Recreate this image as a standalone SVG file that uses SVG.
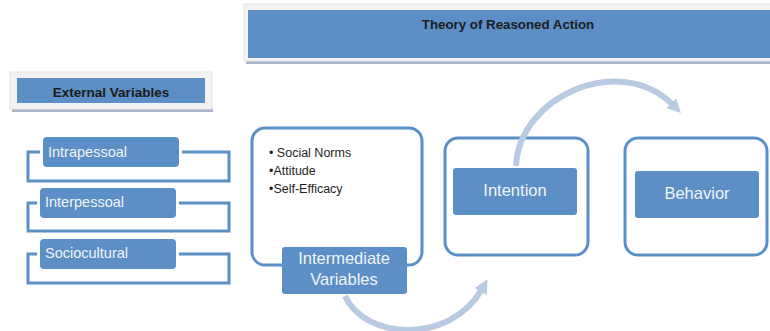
<svg xmlns="http://www.w3.org/2000/svg" width="770" height="331" viewBox="0 0 770 331">
  <defs>
    <style>
      .blue { fill: #5b8fc6; }
      .frame { fill: #ffffff; stroke: #5b8fc6; stroke-width: 3; }
      .bracket { fill: none; stroke: #5b8fc6; stroke-width: 3; }
      .panel { fill: #f3f3f3; stroke: #e4e4e4; stroke-width: 1; }
      .shadow { fill: #a9b6c8; }
      .head { font-family: "Liberation Sans", Arial, sans-serif; font-weight: bold; fill: #1c1c1c; }
      .label { font-family: "Liberation Sans", Arial, sans-serif; fill: #f2f4f8; }
      .bullet { font-family: "Liberation Sans", Arial, sans-serif; font-size: 12.5px; fill: #1e1e1e; }
      .flow { fill: none; stroke: #b9cbe3; stroke-width: 6; }
    </style>
    <marker id="arrow" viewBox="0 0 10 10" refX="2" refY="5" markerWidth="14" markerHeight="14" markerUnits="userSpaceOnUse" orient="auto">
      <path d="M0,0 L10,5 L0,10 z" fill="#b9cbe3"/>
    </marker>
  </defs>

  <rect width="770" height="331" fill="#ffffff"/>

  <!-- title banner -->
  <g id="title">
    <rect class="shadow" x="246" y="60" width="530" height="4"/>
    <rect class="panel" x="244" y="4" width="532" height="57"/>
    <rect class="blue" x="248" y="10" width="530" height="48"/>
    <text class="head" x="508" y="29" font-size="13.3" text-anchor="middle">Theory of Reasoned Action</text>
  </g>

  <!-- external variables header -->
  <g id="external">
    <rect class="shadow" x="12" y="108" width="201" height="4"/>
    <rect class="panel" x="10" y="72" width="202" height="37"/>
    <rect class="blue" x="17" y="78" width="188" height="25"/>
    <text class="head" x="111" y="97" font-size="13.5" text-anchor="middle">External Variables</text>
  </g>

  <!-- external variable items -->
  <g id="intrapessoal">
    <path class="bracket" d="M40 152 H28 V181 H229 V152 H182"/>
    <rect class="blue" x="43" y="137" width="136" height="30" rx="4"/>
    <text class="label" x="48" y="157" font-size="14.5">Intrapessoal</text>
  </g>
  <g id="interpessoal">
    <path class="bracket" d="M37 203 H28 V231 H229 V203 H179"/>
    <rect class="blue" x="40" y="188" width="136" height="30" rx="4"/>
    <text class="label" x="45" y="207" font-size="14.5">Interpessoal</text>
  </g>
  <g id="sociocultural">
    <path class="bracket" d="M37 254 H28 V283 H229 V254 H179"/>
    <rect class="blue" x="40" y="239" width="136" height="30" rx="4"/>
    <text class="label" x="45" y="258" font-size="14.5">Sociocultural</text>
  </g>

  <!-- intermediate variables -->
  <g id="intermediate">
    <rect class="frame" x="252" y="128" width="170" height="137" rx="13"/>
    <text class="bullet" x="269" y="157">• Social Norms</text>
    <text class="bullet" x="269" y="175">•Attitude</text>
    <text class="bullet" x="269" y="193">•Self-Efficacy</text>
    <rect class="blue" x="282" y="247" width="125" height="47" rx="3"/>
    <text class="label" x="344" y="264" font-size="16.5" text-anchor="middle">Intermediate</text>
    <text class="label" x="344" y="285" font-size="16.5" text-anchor="middle">Variables</text>
  </g>

  <!-- intention -->
  <g id="intention">
    <rect class="frame" x="445" y="138" width="143" height="117" rx="13"/>
    <rect class="blue" x="453" y="168" width="124" height="47" rx="3"/>
    <text class="label" x="515" y="196" font-size="16.5" text-anchor="middle">Intention</text>
  </g>

  <!-- behavior -->
  <g id="behavior">
    <rect class="frame" x="625" y="138" width="142" height="117" rx="13"/>
    <rect class="blue" x="635" y="171" width="124" height="47" rx="3"/>
    <text class="label" x="697" y="199" font-size="16.5" text-anchor="middle">Behavior</text>
  </g>

  <!-- flow arrows -->
  <g id="connectors">
    <path class="flow" d="M516 166 C519 96, 620 52, 673 105" marker-end="url(#arrow)"/>
    <path class="flow" d="M345 296 C365 340, 450 345, 482 289" marker-end="url(#arrow)"/>
  </g>
</svg>
